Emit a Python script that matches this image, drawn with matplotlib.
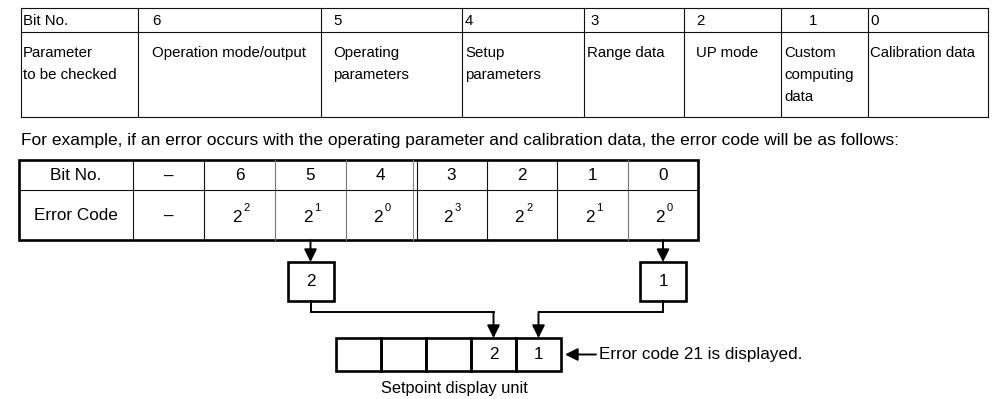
import matplotlib
matplotlib.use("Agg")
import matplotlib.pyplot as plt
from matplotlib.patches import Rectangle

"""
error code diagram: which bit means what, and how two flagged bits
turn into the code shown on the setpoint display
"""

plt.rcParams["font.family"] = ["Liberation Sans", "DejaVu Sans"]

# ---- data ----
top_bits = ["Bit No.", "6", "5", "4", "3", "2", "1", "0"]
top_params = [
    ["Parameter", "to be checked"],
    ["Operation mode/output"],
    ["Operating", "parameters"],
    ["Setup", "parameters"],
    ["Range data"],
    ["UP mode"],
    ["Custom", "computing", "data"],
    ["Calibration data"],
]
example_text = ("For example, if an error occurs with the operating parameter "
                "and calibration data, the error code will be as follows:")
ex_bits = ["Bit No.", "\u2013", "6", "5", "4", "3", "2", "1", "0"]
ex_exponents = [None, None, 2, 1, 0, 3, 2, 1, 0]
flagged = {"5": "2", "0": "1"}          # bit -> digit it produces
display_digits = ["", "", "", "2", "1"]
display_note = "Error code 21 is displayed."
display_label = "Setpoint display unit"

# ---- layout (pixels) ----
W, H = 994, 399
fig = plt.figure(figsize=(W / 100, H / 100), dpi=100)
ax = fig.add_axes([0, 0, 1, 1])
ax.set_xlim(0, W)
ax.set_ylim(H, 0)
ax.axis("off")

FS_TOP = 10.8
FS = 12.3
THIN = 0.8
THICK = 1.9
ARROW = dict(arrowstyle="-|>", color="black", lw=1.4,
             mutation_scale=19, shrinkA=0, shrinkB=0)

# top table
tx = [21, 138, 321, 462, 584, 684, 781, 868, 988]
pad_bit = [2, 14, 12, 3, 6, 12, 28, 2]
pad_txt = [2, 14, 12, 3, 3, 12, 3, 2]
ty = [8, 32, 117]
for x in tx:
    ax.plot([x, x], [ty[0], ty[2]], color="#111", lw=THIN)
for y in ty:
    ax.plot([tx[0], tx[-1]], [y, y], color="#111", lw=THIN)
for i, (b, lines) in enumerate(zip(top_bits, top_params)):
    ax.text(tx[i] + pad_bit[i], (ty[0] + ty[1]) / 2 + 1, b, fontsize=FS_TOP,
            va="center", ha="left")
    for k, line in enumerate(lines):
        ax.text(tx[i] + pad_txt[i], 53 + k * 22, line, fontsize=FS_TOP,
                va="center", ha="left")

ax.text(21, 140, example_text, fontsize=12.5, va="center", ha="left")

# example table
ex = [19, 133, 204, 275, 346, 415, 487, 557, 628, 698]
ey = [160, 190, 240]
gray_cols = {3, 4, 8}
for j, x in enumerate(ex[1:-1], start=1):
    if j == 5:
        ax.plot([x - 2, x - 2], [ey[0], ey[2]], color="#888", lw=THIN)
        ax.plot([x + 2, x + 2], [ey[0], ey[2]], color="#111", lw=THIN)
    else:
        c = "#777" if j in gray_cols else "#111"
        ax.plot([x, x], [ey[0], ey[2]], color=c, lw=THIN)
ax.plot([ex[0], ex[-1]], [ey[1], ey[1]], color="#111", lw=THIN)
ax.add_patch(Rectangle((ex[0], ey[0]), ex[-1] - ex[0], ey[2] - ey[0],
                       fill=False, ec="black", lw=THICK))
row2 = (ey[1] + ey[2]) / 2 + 1
for i, (b, e) in enumerate(zip(ex_bits, ex_exponents)):
    cx = (ex[i] + ex[i + 1]) / 2
    ax.text(cx, (ey[0] + ey[1]) / 2 + 1, b, fontsize=FS, ha="center", va="center")
    if i == 0:
        ax.text(cx, row2, "Error Code", fontsize=FS, ha="center", va="center")
    elif e is None:
        ax.text(cx, row2, "\u2013", fontsize=FS, ha="center", va="center")
    else:
        # base 2 with a small raised exponent
        ax.text(cx - 3, row2 + 1, "2", fontsize=FS, ha="center", va="center")
        ax.text(cx + 4, row2 - 8, str(e), fontsize=8, ha="left", va="center")

# digit boxes under the flagged bits
disp_x = [336, 381, 426, 471, 516, 561]
dy = [338, 371]
join_y = 312
box_top, box_bot = 262, 301
for bit, digit in flagged.items():
    i = ex_bits.index(bit, 2)
    cx = (ex[i] + ex[i + 1]) / 2
    ax.annotate("", xy=(cx, box_top), xytext=(cx, ey[2]), arrowprops=ARROW)
    ax.add_patch(Rectangle((cx - 23, box_top), 46, box_bot - box_top,
                           fill=False, ec="black", lw=THICK))
    ax.text(cx, (box_top + box_bot) / 2, digit, fontsize=FS, ha="center",
            va="center")
    k = display_digits.index(digit)
    tx2 = (disp_x[k] + disp_x[k + 1]) / 2
    ax.plot([cx, cx, tx2], [box_bot, join_y, join_y], color="black", lw=1.4,
            solid_joinstyle="miter")
    ax.annotate("", xy=(tx2, dy[0]), xytext=(tx2, join_y), arrowprops=ARROW)

# setpoint display
for k, d in enumerate(display_digits):
    ax.add_patch(Rectangle((disp_x[k], dy[0]), disp_x[k + 1] - disp_x[k],
                           dy[1] - dy[0], fill=False, ec="black", lw=THICK))
    if d:
        ax.text((disp_x[k] + disp_x[k + 1]) / 2, (dy[0] + dy[1]) / 2, d,
                fontsize=FS, ha="center", va="center")
my = (dy[0] + dy[1]) / 2
ax.annotate("", xy=(disp_x[-1] + 4, my), xytext=(596, my), arrowprops=ARROW)
ax.text(599, my, display_note, fontsize=FS, ha="left", va="center")
ax.text(454, 388, display_label, fontsize=11.8, ha="center", va="center")

fig.savefig("out.png", dpi=100)
